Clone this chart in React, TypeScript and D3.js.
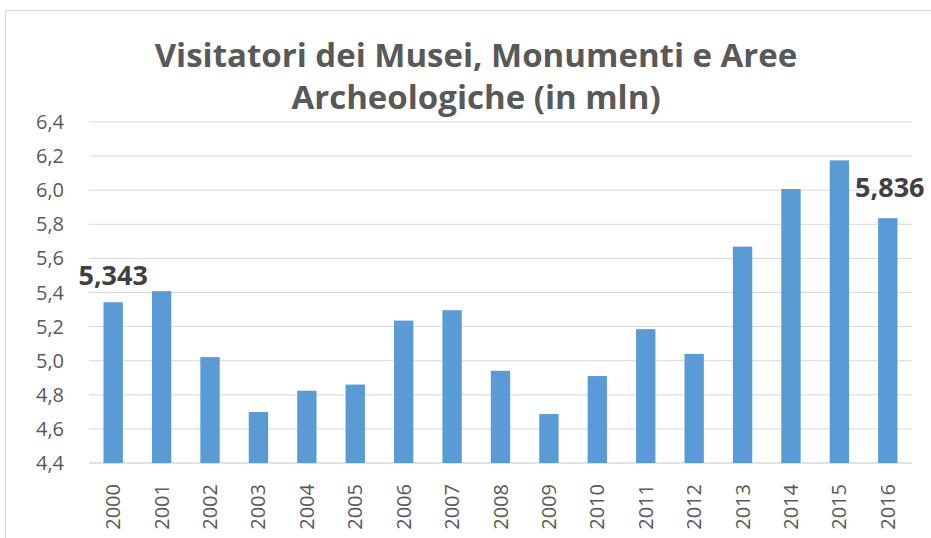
import React from 'react';
import * as d3 from 'd3';

// anni e visitatori (milioni)
const years = ['2000', '2001', '2002', '2003', '2004', '2005', '2006', '2007', '2008',
  '2009', '2010', '2011', '2012', '2013', '2014', '2015', '2016'];
const visitors = [5.343, 5.408, 5.021, 4.699, 4.824, 4.86, 5.235, 5.296, 4.941,
  4.687, 4.91, 5.185, 5.04, 5.669, 6.007, 6.175, 5.836];
const yTicks = [4.4, 4.6, 4.8, 5.0, 5.2, 5.4, 5.6, 5.8, 6.0, 6.2, 6.4];
const labeledYears = ['2000', '2016'];
const titleLines = ['Visitatori dei Musei, Monumenti e Aree', 'Archeologiche (in mln)'];

const W = 931;
const H = 538;
const margin = { top: 122, right: 19, bottom: 75, left: 89 };
const font = '"Open Sans", sans-serif';

const fmt = (v: number, d: number) => v.toFixed(d).replace('.', ',');

export default function App() {
  const innerW = W - margin.left - margin.right;
  const innerH = H - margin.top - margin.bottom;

  const x = d3.scaleBand<string>().domain(years).range([0, innerW]).paddingInner(0.6).paddingOuter(0.3);
  const y = d3.scaleLinear().domain([4.4, 6.4]).range([innerH, 0]);

  return (
    <svg width={W} height={H} style={{ position: 'absolute', left: 0, top: 0 }}>
      <rect x={0} y={0} width={W} height={H} fill="#fff" />
      <rect x={5.5} y={10.5} width={W + 10} height={H + 10} fill="none" stroke="#d9d9d9" />
      {titleLines.map((t, i) => (
        <text key={t} x={476} y={67 + i * 42} textAnchor="middle" fontFamily={font}
          fontWeight="bold" fontSize={33} fill="#595959">{t}</text>
      ))}
      <g transform={`translate(${margin.left},${margin.top})`}>
        {yTicks.map(t => (
          <g key={t} transform={`translate(0,${y(t)})`}>
            <line x1={0} x2={innerW} stroke="#d9d9d9" strokeWidth={t === 4.4 ? 1.5 : 1} />
            <text x={-25} dy="0.35em" textAnchor="end" fontFamily={font} fontSize={20} fill="#595959">
              {fmt(t, 1)}
            </text>
          </g>
        ))}
        {years.map((yr, i) => (
          <rect key={yr} x={x(yr)} y={y(visitors[i])} width={x.bandwidth()}
            height={innerH - y(visitors[i])} fill="#5b9bd5" />
        ))}
        {years.map((yr, i) => labeledYears.includes(yr) && (
          <text key={'l' + yr} x={(x(yr) ?? 0) + x.bandwidth() / 2 + (yr === '2016' ? 2 : 0)}
            y={y(visitors[i]) - (yr === '2016' ? 21 : 17)} textAnchor="middle" fontFamily={font}
            fontWeight="bold" fontSize={27} fill="#404040">{fmt(visitors[i], 3)}</text>
        ))}
        {years.map(yr => (
          <text key={'x' + yr}
            transform={`translate(${(x(yr) ?? 0) + x.bandwidth() / 2},${innerH + 21}) rotate(-90)`}
            dy="0.35em" textAnchor="end" fontFamily={font} fontSize={20} fill="#595959">{yr}</text>
        ))}
      </g>
    </svg>
  );
}
